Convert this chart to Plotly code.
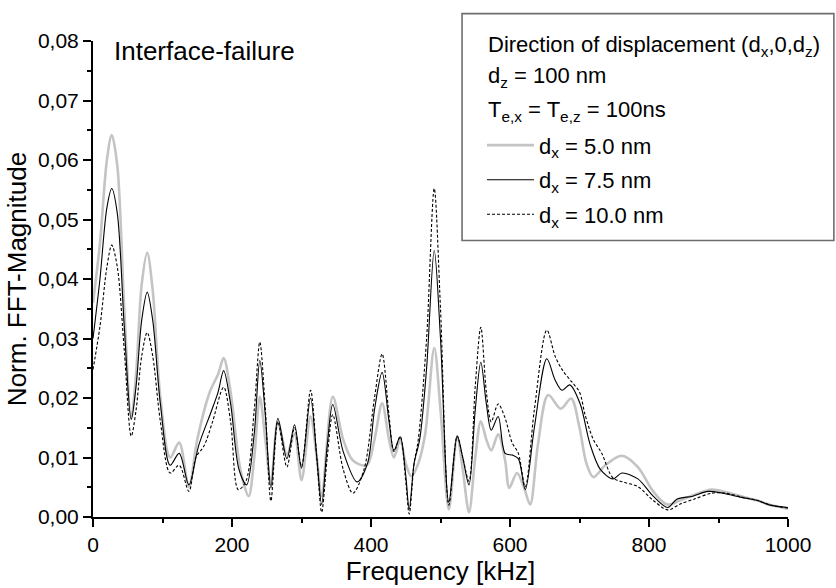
import plotly.graph_objects as go

# ---- data ----
freq_5 = [0, 10, 20, 27, 35, 45, 55, 62, 70, 78, 86, 97, 111, 124, 138, 150, 168, 180, 188, 198,
          212, 224, 232, 240, 248, 256, 266, 279, 290, 300, 313, 322, 329, 345, 360, 374, 394, 405,
          416, 426, 433, 442, 450, 458, 468, 478, 491, 500, 512, 524, 532, 541, 550, 558, 566, 573,
          583, 593, 599, 610, 620, 629, 640, 655, 673, 688, 700, 710, 720, 737, 761, 784, 806, 826,
          845, 865, 890, 910, 935, 955, 975, 1000]
mag_5 = [0.036, 0.046, 0.060, 0.0642, 0.059, 0.035, 0.0166, 0.024, 0.039, 0.0444, 0.038, 0.020,
         0.0100, 0.0125, 0.0051, 0.013, 0.021, 0.024, 0.0267, 0.021, 0.008, 0.0035, 0.010, 0.0202,
         0.013, 0.0055, 0.0160, 0.0105, 0.0140, 0.0062, 0.0169, 0.010, 0.0035, 0.0202, 0.013, 0.0095,
         0.0087, 0.013, 0.0191, 0.013, 0.0100, 0.0130, 0.009, 0.0068, 0.009, 0.014, 0.0284, 0.018,
         0.0013, 0.0135, 0.008, 0.0008, 0.010, 0.0161, 0.013, 0.0112, 0.0139, 0.0095, 0.0049, 0.0074,
         0.005, 0.0021, 0.012, 0.0205, 0.0182, 0.0199, 0.015, 0.009, 0.0067, 0.0087, 0.0103, 0.0084,
         0.0043, 0.0021, 0.0028, 0.0037, 0.0046, 0.0042, 0.0034, 0.0028, 0.0020, 0.0014]

freq_75 = [0, 10, 20, 27, 35, 45, 55, 62, 70, 78, 86, 97, 111, 124, 138, 152, 170, 180, 188, 198,
           210, 221, 232, 240, 248, 256, 266, 279, 290, 300, 313, 322, 329, 337, 345, 360, 380, 395,
           405, 416, 426, 433, 442, 450, 455, 462, 470, 480, 491, 500, 512, 524, 532, 541, 550, 558,
           566, 573, 583, 593, 604, 612, 622, 635, 653, 665, 675, 686, 701, 715, 730, 748, 761, 784,
           806, 827, 840, 863, 885, 906, 933, 955, 974, 1000]
mag_75 = [0.030, 0.040, 0.052, 0.0552, 0.051, 0.032, 0.0164, 0.022, 0.033, 0.0378, 0.033, 0.019,
          0.0087, 0.0107, 0.0054, 0.012, 0.0177, 0.021, 0.0246, 0.019, 0.008, 0.0054, 0.014, 0.0263,
          0.017, 0.0049, 0.0166, 0.0098, 0.0155, 0.0082, 0.020, 0.010, 0.0021, 0.012, 0.0189, 0.011,
          0.0059, 0.009, 0.018, 0.0243, 0.016, 0.0112, 0.0135, 0.007, 0.0013, 0.009, 0.013, 0.025,
          0.0448, 0.030, 0.0025, 0.0136, 0.010, 0.0054, 0.018, 0.0260, 0.019, 0.0146, 0.0169, 0.0107,
          0.0104, 0.0098, 0.0046, 0.015, 0.0266, 0.023, 0.0213, 0.0222, 0.019, 0.0123, 0.008, 0.0064,
          0.0074, 0.0064, 0.0035, 0.0016, 0.0030, 0.0035, 0.0043, 0.0040, 0.0033, 0.0028, 0.0020,
          0.0016]

freq_10 = [0, 10, 20, 27, 35, 45, 55, 62, 70, 78, 86, 97, 111, 124, 138, 148, 160, 172, 188, 198,
           209, 220, 232, 240, 248, 256, 266, 279, 290, 300, 313, 322, 329, 337, 345, 360, 374, 390,
           405, 416, 426, 433, 442, 450, 455, 462, 468, 480, 491, 500, 512, 524, 532, 541, 550, 558,
           566, 573, 583, 593, 603, 612, 622, 635, 653, 665, 676, 689, 700, 708, 720, 732, 748, 765,
           784, 806, 827, 845, 865, 890, 910, 935, 955, 975, 1000]
mag_10 = [0.0248, 0.032, 0.042, 0.0457, 0.042, 0.028, 0.0136, 0.018, 0.027, 0.0310, 0.027, 0.016,
          0.0074, 0.0087, 0.0043, 0.010, 0.012, 0.016, 0.0218, 0.016, 0.0046, 0.006, 0.018, 0.0294,
          0.018, 0.0027, 0.016, 0.0084, 0.015, 0.0085, 0.0213, 0.010, 0.0008, 0.010, 0.0172, 0.008,
          0.0040, 0.008, 0.020, 0.0274, 0.017, 0.011, 0.0135, 0.006, 0.0005, 0.009, 0.013, 0.030,
          0.0552, 0.035, 0.002, 0.0136, 0.010, 0.006, 0.022, 0.0319, 0.021, 0.016, 0.0190, 0.0166,
          0.0125, 0.0107, 0.0051, 0.018, 0.0314, 0.027, 0.0246, 0.0227, 0.021, 0.0172, 0.013, 0.0107,
          0.0066, 0.0058, 0.0051, 0.0028, 0.0012, 0.0022, 0.0030, 0.0040, 0.0040, 0.0033, 0.0028,
          0.0020, 0.0015]

series_names = ["d<sub>x</sub> = 5.0 nm", "d<sub>x</sub> = 7.5 nm", "d<sub>x</sub> = 10.0 nm"]
header_lines = ["Direction of displacement (d<sub>x</sub>,0,d<sub>z</sub>)",
                "d<sub>z</sub> = 100 nm",
                "T<sub>e,x</sub> = T<sub>e,z</sub> = 100ns"]
panel_label = "Interface-failure"
x_title = "Frequency [kHz]"
y_title = "Norm. FFT-Magnitude"

FONT = "Liberation Sans, Arial, sans-serif"

fig = go.Figure()
fig.add_trace(go.Scatter(x=freq_5, y=mag_5, mode="lines", name=series_names[0], legendgroup="a",
                         line=dict(color="#c4c4c4", width=2.6, shape="spline", smoothing=0.9)))
fig.add_trace(go.Scatter(x=freq_75, y=mag_75, mode="lines", name=series_names[1], legendgroup="b",
                         line=dict(color="black", width=1.1, shape="spline", smoothing=0.9)))
fig.add_trace(go.Scatter(x=freq_10, y=mag_10, mode="lines", name=series_names[2], legendgroup="c",
                         line=dict(color="black", width=1.1, dash="3px,2px", shape="spline", smoothing=0.9)))

# legend frame
fig.add_shape(type="rect", xref="paper", yref="paper", x0=0.531, x1=1.066, y0=0.581, y1=1.0575,
              line=dict(color="#6e6e6e", width=1.6), fillcolor="rgba(0,0,0,0)", layer="above")

for i, (txt, yy) in enumerate(zip(header_lines, [0.989, 0.925, 0.853])):
    fig.add_annotation(text=txt, xref="paper", yref="paper", x=0.566, y=yy, xanchor="left",
                       yanchor="middle", showarrow=False, font=dict(family=FONT, size=22, color="black"))

fig.add_annotation(text=panel_label, xref="paper", yref="paper", x=0.027, y=0.979, xanchor="left",
                   yanchor="middle", showarrow=False, font=dict(family=FONT, size=26, color="black"))

fig.update_layout(
    width=836, height=588,
    margin=dict(l=93, r=48, t=41, b=60),
    paper_bgcolor="white", plot_bgcolor="white",
    separators=", ",
    font=dict(family=FONT, size=21, color="black"),
    showlegend=True,
    legend=dict(x=0.5597, y=0.825, xanchor="left", yanchor="top", bgcolor="rgba(0,0,0,0)",
                borderwidth=0, itemwidth=47, tracegroupgap=3, traceorder="grouped",
                font=dict(family=FONT, size=22, color="black")),
    xaxis=dict(range=[0, 1000], tickvals=[0, 200, 400, 600, 800, 1000], showgrid=False, zeroline=False,
               showline=True, linecolor="black", linewidth=2, ticks="outside", ticklen=8, tickwidth=2,
               tickcolor="black", tickfont=dict(size=21),
               minor=dict(dtick=100, ticks="outside", ticklen=4, tickwidth=2, tickcolor="black", showgrid=False),
               title=dict(text=x_title, font=dict(size=26), standoff=2)),
    yaxis=dict(range=[0, 0.08], dtick=0.01, tickformat=".2f", showgrid=False, zeroline=False,
               showline=True, linecolor="black", linewidth=2, ticks="outside", ticklen=8, tickwidth=2,
               tickcolor="black", tickfont=dict(size=21),
               minor=dict(dtick=0.005, ticks="outside", ticklen=4, tickwidth=2, tickcolor="black", showgrid=False),
               title=dict(text=y_title, font=dict(size=26), standoff=4)),
)

fig.write_html("out.html")
